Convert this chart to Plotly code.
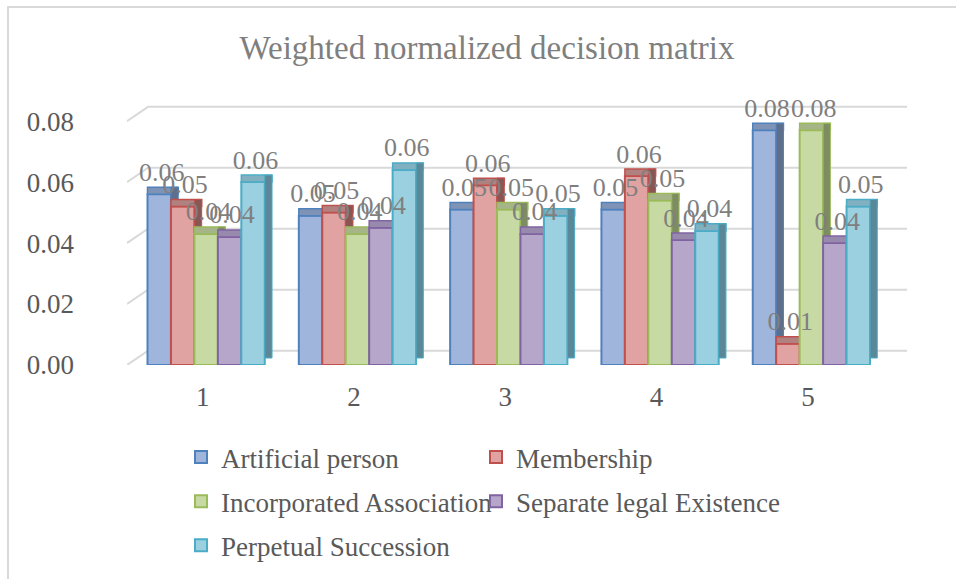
import plotly.graph_objects as go

categories = ["1", "2", "3", "4", "5"]
series_names = ["Artificial person", "Membership", "Incorporated Association",
                "Separate legal Existence", "Perpetual Succession"]
artificial_person = [0.056, 0.049, 0.051, 0.051, 0.077]
membership = [0.052, 0.050, 0.059, 0.062, 0.007]
incorporated_association = [0.043, 0.043, 0.051, 0.054, 0.077]
separate_legal_existence = [0.042, 0.045, 0.043, 0.041, 0.040]
perpetual_succession = [0.060, 0.064, 0.049, 0.044, 0.052]
y_ticks = [0.0, 0.02, 0.04, 0.06, 0.08]

series_values = [artificial_person, membership, incorporated_association,
                 separate_legal_existence, perpetual_succession]

# styling
fronts = ["#9fb5dc", "#e0a3a1", "#c8daa3", "#b5a6ca", "#9ad0e0"]
borders = ["#4f81bd", "#c0504d", "#9bbb59", "#8064a2", "#4bacc6"]
caps = ["#7f93b6", "#b0817f", "#a6b588", "#988aac", "#81b1c1"]
sides = ["#5e6f8c", "#8a5654", "#7d8c62", "#6e6184", "#5b8898"]
legend_ids = ["legend", "legend2", "legend", "legend2", "legend"]

FONT = "Liberation Serif, Times New Roman, serif"
W = 0.155          # bar width (category units)
DX = 0.048         # 3D depth in x (category units)
DY = 0.0023        # 3D depth in y (value units)
SHIFT = 0.023
n = len(series_values)
xs = list(range(len(categories)))

fig = go.Figure()
for j, (name, vals) in enumerate(zip(series_names, series_values)):
    off = -n * W / 2 + j * W + SHIFT
    fig.add_trace(go.Bar(
        x=xs, y=vals, offset=off, width=W, name=name,
        marker=dict(color=fronts[j], line=dict(color=borders[j], width=2)),
        legend=legend_ids[j], legendgroup=name, hoverinfo="skip",
    ))
    fig.add_trace(go.Bar(
        x=xs, y=[DY] * len(vals), base=vals, offset=off, width=W + DX,
        marker=dict(color=caps[j], line=dict(color=borders[j], width=1.5)),
        showlegend=False, hoverinfo="skip",
    ))
    fig.add_trace(go.Bar(
        x=xs, y=vals, base=[DY] * len(vals), offset=off + W, width=DX,
        marker=dict(color=sides[j], line=dict(color=borders[j], width=1)),
        showlegend=False, hoverinfo="skip",
    ))

for j, vals in enumerate(series_values):
    off = -n * W / 2 + j * W + SHIFT
    fig.add_trace(go.Scatter(
        x=[i + off + W / 2 + DX / 3 for i in xs], y=[v + DY for v in vals],
        mode="text", text=[f"{v:.2f}" for v in vals], textposition="top center",
        textfont=dict(family=FONT, size=26, color="#7f7f7f"),
        showlegend=False, hoverinfo="skip", cliponaxis=False,
    ))

X_MIN, X_MAX = -0.5, 4.655
Y_MAX = 0.0853
GRID_SX, GRID_DY = 0.139, 0.0047
for t in y_ticks:
    fig.add_shape(type="path", xref="x", yref="y", layer="below",
                  path=f"M {X_MIN},{t} L {X_MIN + GRID_SX},{t + GRID_DY} L {X_MAX},{t + GRID_DY}",
                  line=dict(color="#d9d9d9", width=2))

PL, PR, PT, PB = 127, 907, 105, 365
pw, ph = PR - PL, PB - PT
fig.update_layout(
    width=956, height=579,
    paper_bgcolor="white", plot_bgcolor="white",
    margin=dict(l=PL, r=956 - PR, t=PT, b=579 - PB, autoexpand=False),
    barmode="overlay",
    title=dict(text="Weighted normalized decision matrix", x=487 / 956, xanchor="center",
               y=1 - 47 / 579, yanchor="middle",
               font=dict(family=FONT, size=33, color="#7f7f7f")),
    xaxis=dict(range=[X_MIN, X_MAX], tickvals=xs, ticktext=categories,
               showgrid=False, showline=False, zeroline=False, ticks="",
               tickfont=dict(family=FONT, size=27, color="#595959"),
               ticklabelstandoff=13),
    yaxis=dict(range=[0, Y_MAX], tickvals=y_ticks, tickformat=".2f",
               showgrid=False, zeroline=False, showline=False, ticks="",
               tickfont=dict(family=FONT, size=27, color="#595959"),
               ticklabelstandoff=52),
    legend=dict(x=(181 - PL) / pw, xanchor="left", y=-(433 - PB) / ph, yanchor="top",
                orientation="v", traceorder="grouped", tracegroupgap=6,
                font=dict(family=FONT, size=27, color="#595959"),
                bgcolor="rgba(0,0,0,0)"),
    legend2=dict(x=(476 - PL) / pw, xanchor="left", y=-(433 - PB) / ph, yanchor="top",
                 orientation="v", traceorder="grouped", tracegroupgap=6,
                 font=dict(family=FONT, size=27, color="#595959"),
                 bgcolor="rgba(0,0,0,0)"),
    showlegend=True,
)
# chart border
fig.add_shape(type="rect", xref="paper", yref="paper",
              x0=(8 - PL) / pw, x1=(965 - PL) / pw,
              y0=(PB - 600) / ph, y1=(PB - 7) / ph,
              line=dict(color="#d9d9d9", width=2), fillcolor="rgba(0,0,0,0)", layer="below")
fig.write_html("out.html", config={"displayModeBar": False},
               post_script="document.body.style.margin='0';document.body.style.overflow='hidden';")
